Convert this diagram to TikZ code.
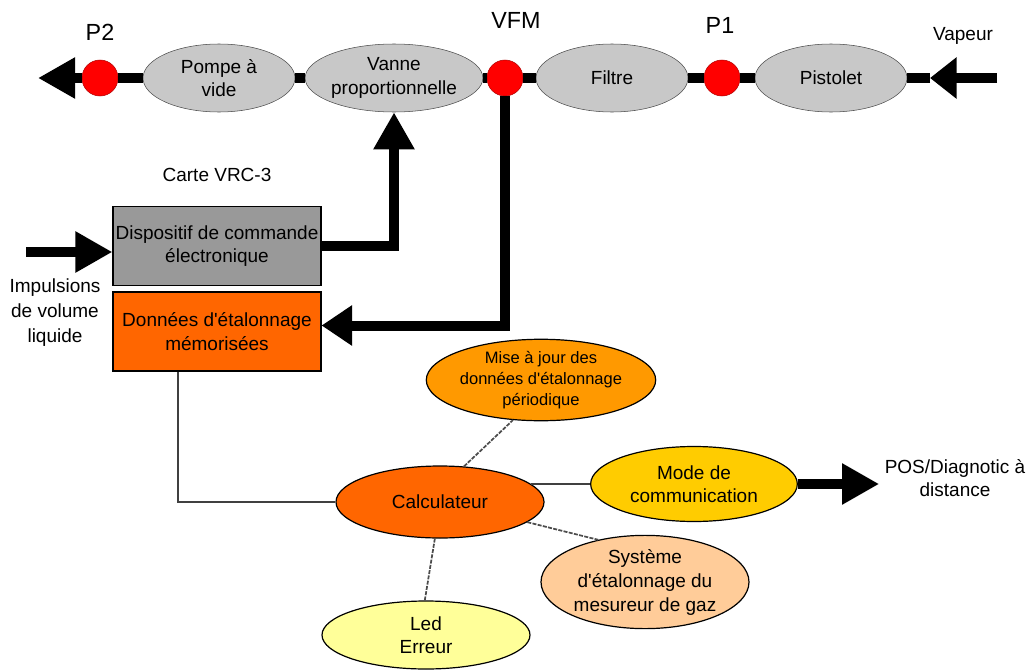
\documentclass[tikz,border=0pt]{standalone}
\usepackage{fontspec}
\setmainfont{Liberation Sans}
\usetikzlibrary{shapes.geometric,arrows.meta}

\definecolor{pipegray}{HTML}{C8C8C8}
\definecolor{boxgray}{HTML}{999999}
\definecolor{calcorange}{HTML}{FF6600}
\definecolor{majorange}{HTML}{FF9900}
\definecolor{modeyellow}{HTML}{FFCC00}
\definecolor{systpeach}{HTML}{FFCC99}
\definecolor{ledyellow}{HTML}{FFFF99}

\begin{document}
\begin{tikzpicture}[x=0.75pt, y=-0.75pt,
    txt/.style={font=\fontsize{14.25}{17.5}\selectfont, align=center, inner sep=0pt},
    tag/.style={font=\fontsize{17.5}{20}\selectfont, inner sep=0pt},
    organ/.style={ellipse, draw=black!70, fill=pipegray, minimum width=114pt, minimum height=51pt, txt},
    probe/.style={circle, draw=red!70!black, fill=red, minimum size=27pt, inner sep=0pt},
    card/.style={rectangle, draw=black, line width=0.8pt, minimum width=156pt, minimum height=59.25pt, txt},
    bubble/.style={ellipse, draw=black, line width=0.9pt, minimum width=156pt, txt},
    pipe/.style={line width=7.5pt},
    flow/.style={pipe, -{Triangle[length=27.75pt, width=29pt]}},
    wire/.style={line width=1.1pt, draw=black!75},
    dwire/.style={line width=1.3pt, draw=black!70, dash pattern=on 3pt off 1pt}]

  \useasboundingbox (0,0) rectangle (1028,671);

  \node[probe] (p2) at (100,78) {};
  \node[organ] (pompe) at (219,78) {Pompe à\\vide};
  \node[organ] (vanne) at (394,78) {Vanne\\proportionnelle};
  \node[probe] (vfm) at (505,78) {};
  \node[organ] (filtre) at (612,78) {Filtre};
  \node[probe] (p1) at (722,78) {};
  \node[organ] (pistolet) at (831,78) {Pistolet};
  \coordinate (sortie) at (38,78);
  \coordinate (entree) at (997,78);
  \coordinate (pointe) at (930,78);

  \node[tag] (lp2) at (100,32) {P2};
  \node[tag] (lvfm) at (516,20) {VFM};
  \node[tag] (lp1) at (720,25) {P1};
  \node[txt] (lvap) at (963,36) {Vapeur};

  \foreach \a/\b in {p2/pompe, pompe/vanne, vanne/vfm, vfm/filtre, filtre/p1, p1/pistolet}
    \draw[pipe] (\a) -- (\b);
  \draw[pipe] (pointe) -- (pistolet);
  \draw[flow, -{Triangle[length=20pt, width=30pt]}] (entree) -- (pointe);
  \draw[flow] (p2) -- (sortie);

  \node[txt] (carte) at (217,175) {Carte VRC-3};
  \node[card, fill=boxgray] (dispo) at (217,246) {Dispositif de commande\\électronique};
  \node[card, fill=calcorange] (donnees) at (217,331.5) {Données d\textquotesingle étalonnage\\mémorisées};
  \node[txt, font=\fontsize{14.25}{18.75}\selectfont] (impuls) at (55,313) {Impulsions\\de volume\\liquide};
  \coordinate (impin) at (26,252);

  \draw[flow] (impin) -- (impin -| dispo.west);
  \draw[flow] (dispo.east) -| (vanne.south);
  \draw[flow, -{Triangle[length=23pt, width=29pt]}] (vfm) |- ([yshift=4.5pt]donnees.east);

  \node[bubble, fill=majorange, minimum height=55.5pt, font=\fontsize{12.4}{15.75}\selectfont] (maj) at (541,380) {Mise à jour des\\données d\textquotesingle étalonnage\\périodique};
  \node[bubble, fill=calcorange, minimum height=54pt] (calc) at (440,502) {Calculateur};
  \node[bubble, fill=modeyellow, minimum height=56.25pt, minimum width=155pt] (mode) at (694,484) {Mode de\\communication};
  \node[bubble, fill=systpeach, minimum height=56.25pt, font=\fontsize{14.25}{18}\selectfont] (syst) at (645,582) {Système\\d\textquotesingle étalonnage du\\mesureur de gaz};
  \node[bubble, fill=ledyellow, minimum height=51pt] (led) at (426,635) {Led\\Erreur};
  \node[txt] (pos) at (955,478) {POS/Diagnotic à\\distance};

  \draw[wire] ([xshift=-29.25pt]donnees.south) |- (calc.west);
  \draw[wire] (calc.11) -- (calc.11 -| mode.west);
  \draw[dwire] (calc.56) -- (maj.235);
  \draw[dwire] (calc.347) -- (syst.138);
  \draw[dwire] (calc.262) -- (led.92);
  \draw[flow, shorten >=4pt] (mode.east) -- (mode.east -| pos.west);
\end{tikzpicture}
\end{document}
